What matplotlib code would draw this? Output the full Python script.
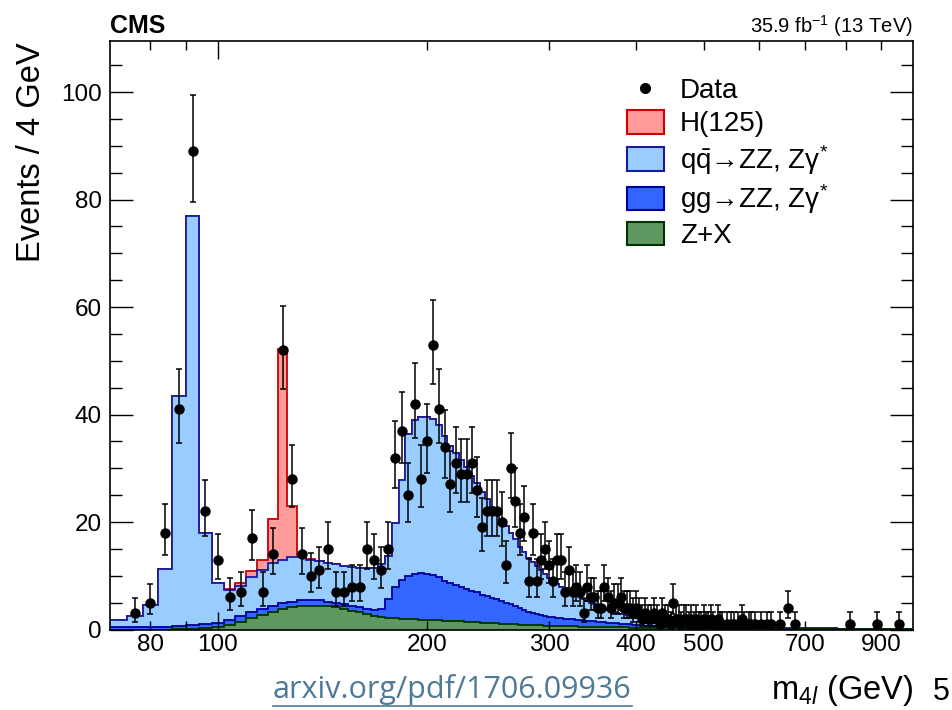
import numpy as np
import matplotlib
matplotlib.use("Agg")
import matplotlib.pyplot as plt
from matplotlib.patches import Patch
from matplotlib.lines import Line2D
from matplotlib.ticker import FixedLocator, FuncFormatter, MultipleLocator

plt.rcParams['font.family'] = ['Liberation Sans', 'DejaVu Sans']
plt.rcParams['mathtext.fontset'] = 'custom'
plt.rcParams['mathtext.rm'] = 'Liberation Sans'
plt.rcParams['mathtext.it'] = 'Liberation Sans:italic'
plt.rcParams['mathtext.bf'] = 'Liberation Sans:bold'

# ---------------- data ----------------
bin_low = 70.0
bin_width = 4.0

zx_values = [
    0.0, 0.0, 0.0, 0.0, 0.05, 0.1, 0.2, 0.4, 0.8, 1.4,
    2.1, 2.7, 3.3, 3.8, 4.1, 4.3, 4.4, 4.4, 4.3, 4.1,
    3.8, 3.5, 3.2, 2.9, 2.6, 2.4, 2.2, 2.1, 2.0, 1.95,
    1.9, 1.85, 1.8, 1.75, 1.7, 1.65, 1.6, 1.55, 1.5, 1.45,
    1.4, 1.35, 1.3, 1.25, 1.2, 1.15, 1.1, 1.05, 1.0, 0.96,
    0.92, 0.88, 0.84, 0.81, 0.78, 0.75, 0.72, 0.7, 0.68, 0.66,
    0.64, 0.62, 0.6, 0.58, 0.56, 0.54, 0.52, 0.5, 0.49, 0.48,
    0.47, 0.46, 0.45, 0.44, 0.43, 0.42, 0.41, 0.4, 0.39, 0.38,
    0.37, 0.36, 0.35, 0.34, 0.33, 0.32, 0.31, 0.3, 0.29, 0.28,
    0.27, 0.26, 0.25, 0.24, 0.23,
    0.22, 0.21, 0.21, 0.2, 0.2, 0.19, 0.19, 0.18, 0.18, 0.17,
    0.17, 0.16, 0.16, 0.15, 0.15, 0.15, 0.14, 0.14, 0.14, 0.13,
    0.13, 0.13, 0.12, 0.12, 0.12, 0.11, 0.11, 0.11, 0.11, 0.1,
    0.1, 0.1, 0.1, 0.09, 0.09, 0.09, 0.09, 0.09, 0.08, 0.08,
    0.08, 0.08, 0.08, 0.07, 0.07, 0.07, 0.07, 0.07, 0.07, 0.06,
    0.06, 0.06, 0.06, 0.06, 0.06, 0.06, 0.05, 0.05, 0.05, 0.05,
    0.05, 0.05, 0.05, 0.05, 0.05, 0.04, 0.04, 0.04, 0.04, 0.04,
    0.04, 0.04, 0.04, 0.04, 0.04, 0.04, 0.04, 0.03, 0.03, 0.03,
    0.03, 0.03, 0.03, 0.03, 0.03, 0.03, 0.03, 0.03, 0.03, 0.03,
    0.03, 0.03, 0.03, 0.03, 0.03, 0.03, 0.02, 0.02, 0.02, 0.02,
    0.02, 0.02, 0.02, 0.02, 0.02, 0.02, 0.02, 0.02, 0.02, 0.02,
    0.02, 0.02, 0.02, 0.02, 0.02, 0.02, 0.02, 0.02, 0.02, 0.02,
    0.02, 0.02, 0.02, 0.02, 0.02, 0.01, 0.01, 0.01, 0.01, 0.01,
    0.01, 0.01, 0.01, 0.01, 0.01, 0.01, 0.01,
]

gg_values = [
    0.4, 0.4, 0.5, 0.5, 0.55, 0.7, 0.8, 0.9, 1.0, 1.1,
    1.1, 1.1, 1.1, 1.1, 1.1, 1.1, 1.0, 1.0, 0.9, 0.9,
    0.9, 0.9, 0.9, 0.9, 1.0, 1.4, 3.4, 5.9, 7.3, 8.05,
    8.5, 8.65, 8.6, 8.35, 8.0, 7.45, 7.1, 6.75, 6.4, 6.05,
    5.8, 5.55, 5.2, 4.95, 4.7, 4.45, 4.2, 3.95, 3.7, 3.34,
    3.08, 2.72, 2.46, 2.29, 2.12, 1.95, 1.83, 1.7, 1.62, 1.54,
    1.46, 1.38, 1.35, 1.32, 1.24, 1.21, 1.18, 1.1, 1.06, 1.02,
    0.98, 0.94, 0.9, 0.86, 0.82, 0.78, 0.74, 0.7, 0.66, 0.62,
    0.58, 0.54, 0.5, 0.46, 0.42, 0.38, 0.34, 0.3, 0.28, 0.26,
    0.24, 0.22, 0.21, 0.2, 0.19,
    0.18, 0.17, 0.17, 0.16, 0.16, 0.15, 0.15, 0.14, 0.14, 0.14,
    0.13, 0.13, 0.13, 0.12, 0.12, 0.12, 0.11, 0.11, 0.11, 0.11,
    0.1, 0.1, 0.1, 0.1, 0.1, 0.09, 0.09, 0.09, 0.09, 0.09,
    0.09, 0.08, 0.08, 0.08, 0.08, 0.08, 0.08, 0.08, 0.07, 0.07,
    0.07, 0.07, 0.07, 0.07, 0.07, 0.07, 0.06, 0.06, 0.06, 0.06,
    0.06, 0.06, 0.06, 0.06, 0.06, 0.06, 0.06, 0.06, 0.06, 0.06,
    0.06, 0.06, 0.05, 0.05, 0.05, 0.05, 0.05, 0.05, 0.05, 0.05,
    0.05, 0.05, 0.05, 0.05, 0.05, 0.05, 0.05, 0.05, 0.05, 0.05,
    0.05, 0.05, 0.04, 0.04, 0.04, 0.04, 0.04, 0.04, 0.04, 0.04,
    0.04, 0.04, 0.04, 0.04, 0.04, 0.04, 0.04, 0.04, 0.04, 0.04,
    0.04, 0.04, 0.04, 0.04, 0.04, 0.04, 0.04, 0.04, 0.04, 0.04,
    0.04, 0.04, 0.04, 0.04, 0.03, 0.03, 0.03, 0.03, 0.03, 0.03,
    0.03, 0.03, 0.03, 0.03, 0.03, 0.03, 0.03, 0.03, 0.03, 0.03,
    0.03, 0.03, 0.03, 0.03, 0.03, 0.03, 0.03,
]

qq_values = [
    1.4, 2.1, 4.1, 10.7, 42.8, 76.1, 17.0, 7.4, 5.6, 5.6,
    6.6, 7.2, 7.9, 8.1, 8.2, 8.0, 7.6, 7.3, 7.2, 7.1,
    7.2, 7.3, 7.4, 7.6, 7.9, 8.4, 8.0, 11.9, 18.6, 26.4,
    28.6, 29.0, 29.2, 29.1, 28.3, 26.9, 25.5, 24.5, 23.6, 22.8,
    21.4, 20.4, 19.1, 18.0, 16.9, 16.0, 15.1, 14.2, 13.3, 12.5,
    11.4, 10.8, 10.0, 9.5, 9.0, 8.3, 7.75, 7.2, 6.7, 6.3,
    5.9, 5.6, 5.25, 4.9, 4.6, 4.25, 4.0, 3.7, 3.45, 3.2,
    2.95, 2.8, 2.55, 2.4, 2.25, 2.1, 1.95, 1.85, 1.75, 1.65,
    1.55, 1.45, 1.35, 1.3, 1.25, 1.2, 1.15, 1.1, 1.03, 0.96,
    0.89, 0.82, 0.79, 0.76, 0.73,
    0.70, 0.68, 0.66, 0.64, 0.62, 0.6, 0.58, 0.56, 0.55, 0.53,
    0.52, 0.5, 0.49, 0.48, 0.46, 0.45, 0.44, 0.43, 0.42, 0.41,
    0.4, 0.39, 0.38, 0.37, 0.36, 0.35, 0.34, 0.34, 0.33, 0.32,
    0.31, 0.31, 0.3, 0.29, 0.29, 0.28, 0.27, 0.27, 0.26, 0.26,
    0.25, 0.25, 0.24, 0.24, 0.23, 0.23, 0.22, 0.22, 0.21, 0.21,
    0.2, 0.2, 0.2, 0.19, 0.19, 0.18, 0.18, 0.18, 0.17, 0.17,
    0.17, 0.16, 0.16, 0.16, 0.15, 0.15, 0.15, 0.15, 0.14, 0.14,
    0.14, 0.14, 0.13, 0.13, 0.13, 0.13, 0.12, 0.12, 0.12, 0.12,
    0.12, 0.11, 0.11, 0.11, 0.11, 0.11, 0.1, 0.1, 0.1, 0.1,
    0.1, 0.1, 0.1, 0.1, 0.1, 0.09, 0.09, 0.09, 0.09, 0.09,
    0.09, 0.09, 0.09, 0.09, 0.09, 0.09, 0.09, 0.08, 0.08, 0.08,
    0.08, 0.08, 0.08, 0.08, 0.08, 0.08, 0.08, 0.08, 0.08, 0.08,
    0.08, 0.08, 0.07, 0.07, 0.07, 0.07, 0.07, 0.07, 0.07, 0.07,
    0.07, 0.07, 0.07, 0.07, 0.07, 0.07, 0.07,
]

higgs_mass = [104, 108, 112, 116, 120, 124, 128, 132, 136]
higgs_values = [0.2, 0.6, 1.0, 2.0, 8.2, 39.1, 9.6, 0.4, 0.1]

data_mass = [
    76, 80, 84, 88, 92, 96, 100, 104, 108, 112, 116, 120, 124, 128, 132, 136,
    140, 144, 148, 152, 156, 160, 164, 168, 172, 176, 180, 184, 188, 192, 196,
    200, 204, 208, 212, 216, 220, 224, 228, 232, 236, 240, 244, 248, 252, 256,
    260, 264, 268, 272, 276, 280, 284, 288, 292, 296, 300, 304, 308, 312, 316,
    320, 324, 328, 332, 336, 340, 344, 348, 352, 356, 360, 364, 368, 372, 376,
    380, 384, 388, 392, 396, 400, 404, 408, 412, 416, 420, 424, 428, 432, 436,
    440, 444, 448, 452, 456, 460, 464, 468, 472, 476, 480, 484, 488, 492, 496,
    500, 504, 508, 512, 516, 524, 528, 532, 540, 548, 552, 560, 568, 572, 580,
    584, 592, 604, 616, 624, 644, 660, 676, 812, 888, 956,
]
data_counts = [
    3, 5, 18, 41, 89, 22, 13, 6, 7, 17, 7, 14, 52, 28, 14, 10,
    11, 15, 7, 7, 8, 8, 15, 13, 11, 15, 32, 37, 25, 42, 28,
    35, 53, 41, 34, 27, 31, 29, 29, 31, 26, 19, 22, 22, 22, 20,
    12, 30, 24, 18, 21, 9, 18, 9, 13, 15, 12, 9, 13, 13, 7,
    11, 7, 8, 7, 3, 8, 6, 6, 4, 4, 8, 6, 4, 5, 5,
    6, 4, 4, 4, 3, 4, 3, 2, 3, 2, 2, 3, 2, 1, 3,
    2, 2, 1, 5, 2, 2, 1, 2, 2, 1, 2, 1, 2, 1, 1,
    2, 1, 1, 2, 1, 2, 1, 1, 1, 1, 1, 1, 2, 1, 1,
    1, 1, 1, 1, 1, 1, 4, 1, 1, 1, 1,
]

x_labelled_ticks = [80, 100, 200, 300, 400, 500, 700, 900]
x_other_ticks = [90, 600, 800]
y_ticks = [0, 20, 40, 60, 80, 100]

legend_labels = ["Data", "H(125)", "q$\\bar{\\mathrm{q}}$\u2192ZZ, Z\u03b3$^{*}$",
                 "gg\u2192ZZ, Z\u03b3$^{*}$", "Z+X"]

# ---------------- colours ----------------
c_h = ('#ff9b9b', '#cc0000')
c_qq = ('#99ccff', '#1a1aa0')
c_gg = ('#3366ff', '#000099')
c_zx = ('#5f985f', '#003300')

# ---------------- build stack ----------------
zx = np.array(zx_values)
gg = np.array(gg_values)
qq = np.array(qq_values)
nb = len(zx)
edges = bin_low + bin_width * np.arange(nb + 1)
centers = 0.5 * (edges[:-1] + edges[1:])
higgs = np.zeros(nb)
for m, v in zip(higgs_mass, higgs_values):
    higgs[np.argmin(np.abs(centers - m))] = v

top_zx = zx
top_gg = top_zx + gg
top_qq = top_gg + qq
top_h = top_qq + higgs

W, H = 952, 710
fig = plt.figure(figsize=(W / 100, H / 100), dpi=100)
ax = fig.add_axes([110 / W, 1 - 629.5 / H, 803 / W, 588.5 / H])

for top, (fc, ec) in [(top_h, c_h), (top_qq, c_qq), (top_gg, c_gg), (top_zx, c_zx)]:
    ax.stairs(top, edges, baseline=0, fill=True, facecolor=fc, edgecolor='none', linewidth=0)
    ax.stairs(top, edges, baseline=None, color=ec, linewidth=1.3)

# data with Garwood-like Poisson intervals
n = np.array(data_counts, dtype=float)
lo = n * (1 - 1 / (9 * n) - 1 / (3 * np.sqrt(n))) ** 3
hi = (n + 1) * (1 - 1 / (9 * (n + 1)) + 1 / (3 * np.sqrt(n + 1))) ** 3
ax.errorbar(data_mass, n, yerr=[n - lo, hi - n], fmt='o', color='black', ms=6.5,
            elinewidth=1.1, capsize=2.3, capthick=1.1, zorder=6)

# axes
ax.set_xscale('log')
ax.set_xlim(70, 1000)
ax.set_ylim(0, 109.5)
ax.xaxis.set_major_locator(FixedLocator([100]))
ax.xaxis.set_major_formatter(FuncFormatter(lambda v, p: f'{v:g}'))
ax.xaxis.set_minor_locator(FixedLocator([t for t in x_labelled_ticks if t != 100] + x_other_ticks))
ax.xaxis.set_minor_formatter(FuncFormatter(
    lambda v, p: f'{v:g}' if int(round(v)) in x_labelled_ticks else ''))
ax.tick_params(axis='x', which='both', direction='in', top=True, bottom=True,
               labelsize=17.5, pad=3, width=1)
ax.tick_params(axis='x', which='major', length=13)
ax.tick_params(axis='x', which='minor', length=6.5)
ax.yaxis.set_major_locator(FixedLocator(y_ticks))
ax.yaxis.set_minor_locator(MultipleLocator(5))
ax.tick_params(axis='y', which='both', direction='in', left=True, right=True,
               labelsize=17.5, pad=6, width=1)
ax.tick_params(axis='y', which='major', length=16.5)
ax.tick_params(axis='y', which='minor', length=8.6)
for s in ax.spines.values():
    s.set_linewidth(1.2)

# legend
handles = [
    Line2D([], [], marker='o', color='black', linestyle='none', markersize=7),
    Patch(facecolor=c_h[0], edgecolor=c_h[1], linewidth=1.5),
    Patch(facecolor=c_qq[0], edgecolor=c_qq[1], linewidth=1.5),
    Patch(facecolor=c_gg[0], edgecolor=c_gg[1], linewidth=1.5),
    Patch(facecolor=c_zx[0], edgecolor=c_zx[1], linewidth=1.5),
]
leg = ax.legend(handles, legend_labels, loc='upper left',
                bbox_to_anchor=(627 / W, 1 - 77 / H), bbox_transform=fig.transFigure,
                frameon=False, fontsize=20, handlelength=1.33, handleheight=0.94,
                handletextpad=0.58, labelspacing=0.2, borderpad=0, borderaxespad=0)

# texts
fig.text(32 / W, 1 - 42 / H, 'Events / 4 GeV', rotation=90, ha='center', va='top', fontsize=23.5)
fig.text(913 / W, 1 - 699 / H, 'm$_{4\\mathit{l}}$ (GeV)', ha='right', va='baseline', fontsize=23.5)
fig.text(110 / W, 1 - 33 / H, 'CMS', ha='left', va='baseline', fontsize=18, fontweight='bold')
fig.text(913 / W, 1 - 33 / H, '35.9 fb$^{-1}$ (13 TeV)', ha='right', va='baseline', fontsize=14.5)
link = fig.text(273 / W, 1 - 698 / H, 'arxiv.org/pdf/1706.09936', ha='left', va='baseline',
                fontsize=22, color='#4f7a96', family=['Open Sans', 'DejaVu Sans'])
fig.text(933 / W, 1 - 700 / H, '5', ha='left', va='baseline', fontsize=22, color='black')

fig.canvas.draw()
bb = link.get_window_extent()
uy = 1 - 706 / H
fig.add_artist(Line2D([bb.x0 / W, bb.x1 / W], [uy, uy], transform=fig.transFigure,
                      color='#4f7a96', linewidth=1.2))

fig.savefig('out.png', dpi=100)
